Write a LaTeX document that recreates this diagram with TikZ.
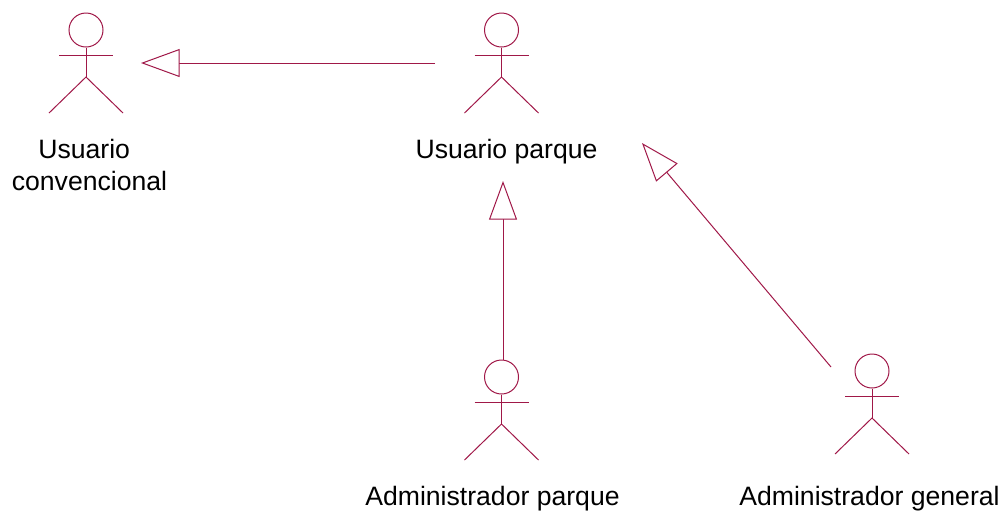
\documentclass[tikz,border=0pt]{standalone}
\usepackage{fontspec}
\setmainfont{Liberation Sans}
\usetikzlibrary{arrows.meta,positioning}
\definecolor{umlline}{HTML}{A01848}
\tikzset{
  umlstroke/.style={draw=umlline,line width=0.75pt},
  actorhead/.style={umlstroke,circle,minimum size=25.5pt,inner sep=0pt,fill=none},
  actorlabel/.style={text=black,font=\fontsize{19.95pt}{24pt}\selectfont,inner sep=0pt,anchor=base,align=center},
  generalize/.style={umlstroke,-{Triangle[open,fill=white,length=29pt,width=21pt,line width=0.75pt,sep=0pt]},shorten >=0pt},
  pics/actor/.style={code={
    \node[actorhead] (-head) at (0,0) {};
    \coordinate (-hip) at (0,47);
    \coordinate (-armL) at (-27,25);
    \coordinate (-armR) at (27,25);
    \coordinate (-footL) at (-37,83);
    \coordinate (-footR) at (37,83);
    \draw[umlstroke] (-head.south) -- (-hip);
    \draw[umlstroke] (-armL) -- (-armR);
    \draw[umlstroke] (-footL) -- (-hip) -- (-footR);
  }}
}
\begin{document}
\begin{tikzpicture}[x=0.75pt,y=-0.75pt]
\useasboundingbox (0,0) rectangle (1005,512);
\pic (convencional) at (86,30) {actor};
\pic (parque) at (501.5,30) {actor};
\pic (admparque) at (501.5,377) {actor};
\pic (admgeneral) at (872,371) {actor};
\node[actorlabel] (lconvencional) at (89.5,190) {Usuario\hspace*{8pt}\\convencional};
\node[actorlabel] (lparque) at (506.5,158) {Usuario parque};
\node[actorlabel] (ladmparque) at (492.5,505) {Administrador parque};
\node[actorlabel] (ladmgeneral) at (869.5,505) {Administrador general};
\coordinate (a1s) at (435,63);
\coordinate (a1e) at (141,63);
\coordinate (a2s) at (503,360);
\coordinate (a2e) at (503,181);
\coordinate (a3s) at (831,367);
\coordinate (a3e) at (642,143);
\draw[generalize] (a1s) -- (a1e);
\draw[generalize] (a2s) -- (a2e);
\draw[generalize] (a3s) -- (a3e);
\end{tikzpicture}
\end{document}
